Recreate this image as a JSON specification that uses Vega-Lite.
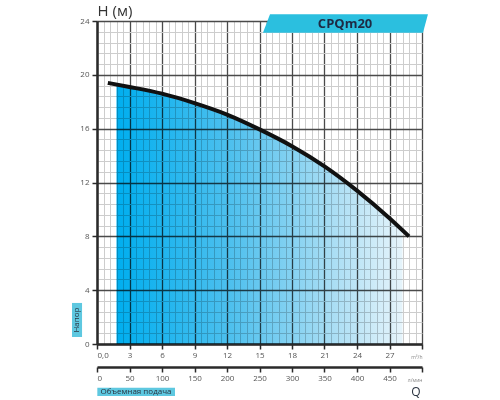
{
  "$schema": "https://vega.github.io/schema/vega-lite/v6.json",
  "width": 325,
  "height": 323,
  "autosize": {"type": "none"},
  "padding": {"left": 97, "top": 21, "right": 78, "bottom": 56},
  "background": "white",
  "config": {
    "view": {"stroke": null},
    "font": "Open Sans",
    "axis": {"labelFont": "Open Sans", "titleFont": "Open Sans"}
  },
  "datasets": {
    "curve": [
      {"q": 1.0, "h": 19.4},
      {"q": 3, "h": 19.1},
      {"q": 6, "h": 18.6},
      {"q": 9, "h": 17.9},
      {"q": 12, "h": 17.05},
      {"q": 15, "h": 15.95},
      {"q": 18, "h": 14.7},
      {"q": 21, "h": 13.2},
      {"q": 24, "h": 11.4},
      {"q": 27, "h": 9.35},
      {"q": 28.8, "h": 8.0}
    ],
    "fill": [
      {"q": 1.8, "h": 19.25},
      {"q": 3, "h": 19.1},
      {"q": 6, "h": 18.6},
      {"q": 9, "h": 17.9},
      {"q": 12, "h": 17.05},
      {"q": 15, "h": 15.95},
      {"q": 18, "h": 14.7},
      {"q": 21, "h": 13.2},
      {"q": 24, "h": 11.4},
      {"q": 27, "h": 9.35},
      {"q": 28.2, "h": 8.5}
    ]
  },
  "resolve": {
    "scale": {"x": "independent"},
    "axis": {"x": "independent", "y": "independent"}
  },
  "layer": [
    {
      "data": {"name": "fill"},
      "mark": {
        "type": "area",
        "interpolate": "monotone",
        "blend": "multiply",
        "fill": {
          "gradient": "linear",
          "x1": 0, "y1": 0, "x2": 1, "y2": 0,
          "stops": [
            {"offset": 0, "color": "#00AEEF"},
            {"offset": 0.4, "color": "#4EC0EE"},
            {"offset": 0.75, "color": "#A8DDF4"},
            {"offset": 1, "color": "#E6F4FB"}
          ]
        }
      },
      "encoding": {
        "x": {
          "field": "q", "type": "quantitative",
          "scale": {"domain": [0, 30], "nice": false},
          "axis": {
            "orient": "bottom",
            "values": [0, 0.6, 1.2, 1.8, 2.4, 3, 3.6, 4.2, 4.8, 5.4, 6, 6.6, 7.2, 7.8, 8.4, 9, 9.6, 10.2, 10.8, 11.4, 12, 12.6, 13.2, 13.8, 14.4, 15, 15.6, 16.2, 16.8, 17.4, 18, 18.6, 19.2, 19.8, 20.4, 21, 21.6, 22.2, 22.8, 23.4, 24, 24.6, 25.2, 25.8, 26.4, 27, 27.6, 28.2, 28.8, 29.4, 30],
            "grid": true, "gridColor": "#cdcdcd", "gridWidth": 1,
            "labels": false, "ticks": false, "domain": false, "title": null
          }
        },
        "y": {
          "field": "h", "type": "quantitative",
          "scale": {"domain": [0, 24], "nice": false},
          "axis": {
            "orient": "left",
            "values": [0, 0.8, 1.6, 2.4, 3.2, 4, 4.8, 5.6, 6.4, 7.2, 8, 8.8, 9.6, 10.4, 11.2, 12, 12.8, 13.6, 14.4, 15.2, 16, 16.8, 17.6, 18.4, 19.2, 20, 20.8, 21.6, 22.4, 23.2, 24],
            "grid": true, "gridColor": "#cdcdcd", "gridWidth": 1,
            "labels": false, "ticks": false, "domain": false, "title": null
          }
        }
      }
    },
    {
      "data": {"name": "curve"},
      "mark": {"type": "line", "interpolate": "monotone", "color": "#111111", "strokeWidth": 4, "strokeCap": "butt"},
      "encoding": {
        "x": {
          "field": "q", "type": "quantitative",
          "scale": {"domain": [0, 30], "nice": false},
          "axis": {
            "orient": "bottom",
            "values": [0, 3, 6, 9, 12, 15, 18, 21, 24, 27, 30],
            "grid": true, "gridColor": "#4a4a4a", "gridWidth": 1.3,
            "domain": true, "domainColor": "#2a2a2a", "domainWidth": 2.5,
            "ticks": true, "tickColor": "#2a2a2a", "tickSize": 5, "tickWidth": 1.5,
            "labelFontSize": 8, "labelColor": "#555555", "labelPadding": 2,
            "labelExpr": "datum.value == 0 ? '0,0' : (datum.value == 30 ? '' : datum.label)",
            "title": "m³/h", "titleFontSize": 5, "titleFontWeight": "normal", "titleColor": "#888888",
            "titleX": 325, "titleY": 14, "titleAlign": "right", "titleBaseline": "alphabetic"
          }
        },
        "y": {
          "field": "h", "type": "quantitative",
          "scale": {"domain": [0, 24], "nice": false},
          "axis": {
            "orient": "left",
            "values": [0, 4, 8, 12, 16, 20, 24],
            "grid": true, "gridColor": "#4a4a4a", "gridWidth": 1.3,
            "domain": true, "domainColor": "#2a2a2a", "domainWidth": 2.5,
            "ticks": true, "tickColor": "#2a2a2a", "tickSize": 5, "tickWidth": 1.5,
            "labelFontSize": 8, "labelColor": "#555555", "labelPadding": 3,
            "title": "H (м)", "titleAngle": 0, "titleX": 0, "titleY": -6,
            "titleAlign": "left", "titleBaseline": "alphabetic",
            "titleFontSize": 15, "titleFontWeight": "normal", "titleColor": "#333333"
          }
        }
      }
    },
    {
      "data": {"values": [{"y": 23.13, "xa": 15.32, "xb": 30.09}, {"y": 24.5, "xa": 15.97, "xb": 30.55}]},
      "mark": {"type": "area", "orient": "horizontal", "interpolate": "linear", "color": "#2BBFDF"},
      "encoding": {
        "y": {"field": "y", "type": "quantitative", "axis": null},
        "x": {"field": "xa", "type": "quantitative", "scale": {"domain": [0, 30], "nice": false}, "axis": null},
        "x2": {"field": "xb"}
      }
    },
    {
      "data": {"values": [{"q": 22.9, "h": 23.8, "label": "CPQm20"}]},
      "mark": {"type": "text", "font": "Open Sans", "fontSize": 13, "fontWeight": "bold", "color": "#1E2A44", "align": "center", "baseline": "middle"},
      "encoding": {
        "x": {"field": "q", "type": "quantitative", "scale": {"domain": [0, 30], "nice": false}, "axis": null},
        "y": {"field": "h", "type": "quantitative", "axis": null},
        "text": {"field": "label"}
      }
    },
    {
      "data": {"values": [{"x1": -2.31, "x2": -1.38, "y1": 0.52, "y2": 3.05}]},
      "mark": {"type": "rect", "color": "#5EC8E0"},
      "encoding": {
        "x": {"field": "x1", "type": "quantitative", "scale": {"domain": [0, 30], "nice": false}, "axis": null},
        "x2": {"field": "x2"},
        "y": {"field": "y1", "type": "quantitative", "axis": null},
        "y2": {"field": "y2"}
      }
    },
    {
      "data": {"values": [{"q": -1.85, "h": 1.78, "label": "Напор"}, {"q": 29.45, "h": -3.57, "label": "Q"}]},
      "mark": {"type": "text", "font": "Open Sans", "color": "#2A3340", "align": "center"},
      "encoding": {
        "x": {"field": "q", "type": "quantitative", "scale": {"domain": [0, 30], "nice": false}, "axis": null},
        "y": {"field": "h", "type": "quantitative", "axis": null},
        "text": {"field": "label"},
        "angle": {"condition": {"test": "datum.label == 'Напор'", "value": 270}, "value": 0},
        "size": {"condition": {"test": "datum.label == 'Напор'", "value": 8}, "value": 12},
        "baseline": {"condition": {"test": "datum.label == 'Напор'", "value": "middle"}, "value": "alphabetic"}
      }
    },
    {
      "data": {"values": [{"a": 0.5, "b": 120, "y1": -3.25, "y2": -3.86}]},
      "mark": {"type": "rect", "color": "#5EC8E0"},
      "encoding": {
        "x": {
          "field": "a", "type": "quantitative",
          "scale": {"domain": [0, 500], "nice": false},
          "axis": {
            "orient": "bottom", "offset": 23,
            "values": [0, 50, 100, 150, 200, 250, 300, 350, 400, 450, 500],
            "grid": false,
            "domain": true, "domainColor": "#2a2a2a", "domainWidth": 2.5,
            "ticks": true, "tickColor": "#2a2a2a", "tickSize": 5, "tickWidth": 1.5,
            "labelFontSize": 8, "labelColor": "#555555", "labelPadding": 2,
            "labelExpr": "datum.value == 500 ? '' : datum.label",
            "title": "л/мин", "titleFontSize": 5, "titleFontWeight": "normal", "titleColor": "#888888",
            "titleX": 325, "titleY": 14, "titleAlign": "right", "titleBaseline": "alphabetic"
          }
        },
        "x2": {"field": "b"},
        "y": {"field": "y1", "type": "quantitative", "axis": null},
        "y2": {"field": "y2"}
      }
    },
    {
      "data": {"values": [{"a": 60, "h": -3.55, "label": "Объемная подача"}]},
      "mark": {"type": "text", "font": "Open Sans", "fontSize": 8, "color": "#2A3340", "align": "center", "baseline": "middle"},
      "encoding": {
        "x": {"field": "a", "type": "quantitative", "scale": {"domain": [0, 500], "nice": false}, "axis": null},
        "y": {"field": "h", "type": "quantitative", "axis": null},
        "text": {"field": "label"}
      }
    }
  ]
}
